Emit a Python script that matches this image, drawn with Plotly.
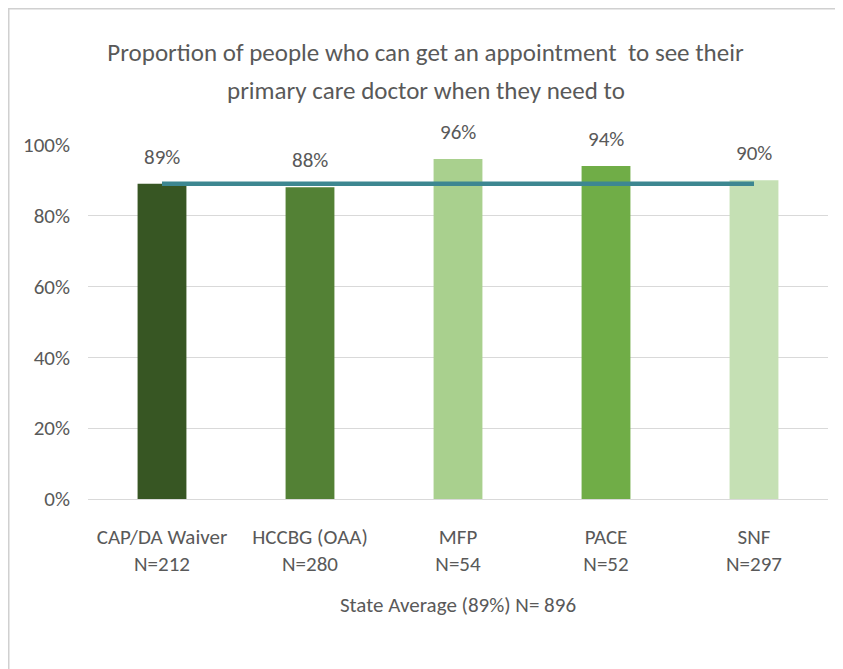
import plotly.graph_objects as go

categories = ["CAP/DA Waiver", "HCCBG (OAA)", "MFP", "PACE", "SNF"]
sample_sizes = ["N=212", "N=280", "N=54", "N=52", "N=297"]
values = [0.89, 0.88, 0.96, 0.94, 0.90]
value_labels = ["89%", "88%", "96%", "94%", "90%"]
state_average = 0.89
bar_colors = ["#375623", "#538135", "#A9D08E", "#70AD47", "#C5E0B4"]
title_lines = ["Proportion of people who can get an appointment  to see their",
               "primary care doctor when they need to"]

FONT = "Carlito, Calibri, sans-serif"
GRAY = "#595959"

x_labels = [f"{c}<br>{n}" for c, n in zip(categories, sample_sizes)]

fig = go.Figure()
fig.add_trace(go.Bar(
    x=x_labels, y=values, marker=dict(color=bar_colors, line=dict(width=0)),
    width=0.33, showlegend=False, hoverinfo="skip",
))
fig.add_trace(go.Scatter(
    x=x_labels, y=[state_average] * len(categories), mode="lines",
    line=dict(color="#3D8791", width=4.5), showlegend=False, hoverinfo="skip",
))

for xl, v, t in zip(x_labels, values, value_labels):
    fig.add_annotation(x=xl, y=v, text=t, showarrow=False, yshift=27,
                       font=dict(family=FONT, size=21, color=GRAY))

# page has an 8px body margin: figure coordinates = page coordinates - 8
W, H = 835, 661
l, r, t, b = 80, 15, 136, 170
pw, ph = W - l - r, H - t - b
def px(x): return (x - l) / pw
def py(y): return (H - b - y) / ph

# second title line (own annotation to match the wider line spacing)
fig.add_annotation(xref="paper", yref="paper", x=px(W / 2), y=py(82), text=title_lines[1],
                   showarrow=False, xanchor="center", yanchor="middle",
                   font=dict(family=FONT, size=25, color=GRAY))

fig.add_shape(type="line", xref="paper", yref="paper", x0=px(0), x1=px(835), y0=py(0.75), y1=py(0.75),
              line=dict(color="#D0D0D0", width=1.5))
fig.add_shape(type="line", xref="paper", yref="paper", x0=px(0.75), x1=px(0.75), y0=py(0), y1=py(661),
              line=dict(color="#D0D0D0", width=1.5))

fig.update_layout(
    width=W, height=H,
    margin=dict(l=l, r=r, t=t, b=b),
    paper_bgcolor="white", plot_bgcolor="white",
    font=dict(family=FONT, color=GRAY),
    title=dict(text=title_lines[0],
               x=0.5, xanchor="center", xref="container", y=1 - 44 / H, yanchor="middle",
               font=dict(family=FONT, size=25, color=GRAY)),
    xaxis=dict(showgrid=False, showline=False, ticks="", tickfont=dict(size=21, color=GRAY),
               ticklabelstandoff=23,
               title=dict(text="State Average (89%) N= 896", font=dict(size=21, color=GRAY), standoff=21)),
    yaxis=dict(range=[0, 1.002], tickvals=[0, 0.2, 0.4, 0.6, 0.8, 1.0], tickformat=".0%",
               showgrid=True, gridcolor="#D9D9D9", gridwidth=1, zeroline=True, zerolinecolor="#D9D9D9",
               zerolinewidth=1, showline=False, ticks="", ticklen=0,
               tickfont=dict(size=21, color=GRAY), ticklabelstandoff=17),
)

fig.write_html("out.html")
